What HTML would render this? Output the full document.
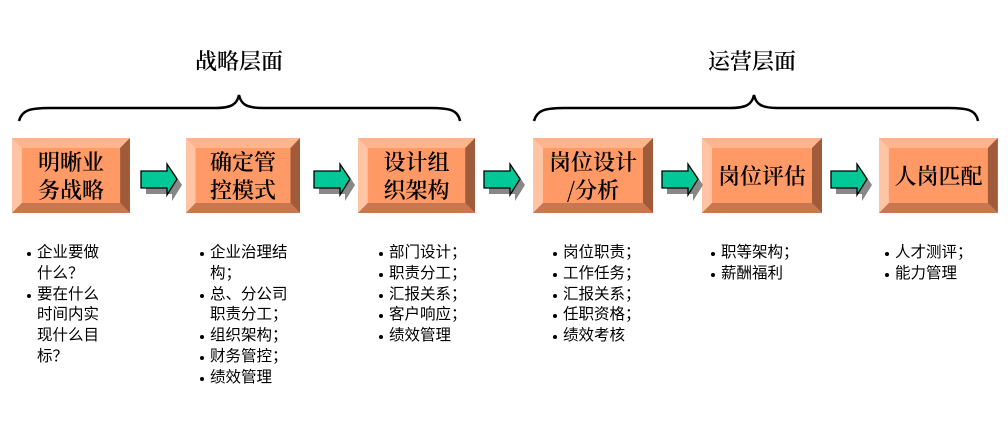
<!DOCTYPE html>
<html><head><meta charset="utf-8"><style>
body{margin:0;width:1008px;height:429px;background:#fff;position:relative;overflow:hidden}
.t{position:absolute;font-family:"Noto Serif CJK SC","Liberation Serif",serif;font-size:22px;font-weight:600;color:#000;white-space:nowrap}
.b{position:absolute;font-family:"Liberation Sans","Noto Sans CJK SC",sans-serif;font-size:15.5px;line-height:20.8px;color:#000}
.b div{position:relative;padding-left:10px}
.b div.s::before{content:"";position:absolute;left:0;top:9px;width:4px;height:4px;border-radius:50%;background:#000}
.bx{position:absolute;font-family:"Noto Serif CJK SC","Liberation Serif",serif;font-weight:600;font-size:22px;line-height:28px;text-align:center;color:#000;display:flex;align-items:center;justify-content:center}
</style></head><body>
<svg width="1008" height="429" style="position:absolute;left:0;top:0">
<defs>
<g id="box">
<rect x="0" y="0" width="120" height="75" fill="#FF9966"/>
<polygon points="0,0 120,0 110,10 10,10" fill="#FFB48C"/>
<polygon points="0,0 10,10 10,65 0,75" fill="#FFC4A4"/>
<polygon points="120,0 120,75 110,65 110,10" fill="#A05C3A"/>
<polygon points="0,75 120,75 110,65 10,65" fill="#C87750"/>
</g>
<g id="arr">
<polygon points="5,13 31,13 31,6 41,21 31,37 31,30 5,30" fill="#888"/>
<polygon points="0,7 26,7 26,0 36,15 26,31 26,24 0,24" fill="#00C896" stroke="#000" stroke-width="1.3"/>
</g>
</defs>
<g transform="translate(12,138) scale(0.983,1)"><use href="#box"/></g>
<g transform="translate(186,138) scale(0.95,1)"><use href="#box"/></g>
<g transform="translate(358,138) scale(0.975,1)"><use href="#box"/></g>
<g transform="translate(533,138)"><use href="#box"/></g>
<g transform="translate(702,138)"><use href="#box"/></g>
<g transform="translate(879,138) scale(0.99,1)"><use href="#box"/></g>
<use href="#arr" x="141" y="164"/>
<use href="#arr" x="314" y="164"/>
<use href="#arr" x="484" y="164"/>
<use href="#arr" x="662" y="164"/>
<use href="#arr" x="831" y="164"/>
<path d="M19,121 C22,110 30,108 50,108 L215,108 C232,108 237,104 239,95 C241,104 246,108 263,108 L430,108 C450,108 458,110 460,121" fill="none" stroke="#000" stroke-width="2.5"/>
<path d="M534,121 C537,110 545,108 565,108 L730,108 C747,108 752,104 754,95 C756,104 761,108 778,108 L948,108 C968,108 976,110 978,121" fill="none" stroke="#000" stroke-width="2.5"/>
</svg>
<div class="t" style="left:195px;top:45px">战略层面</div>
<div class="t" style="left:708px;top:45px">运营层面</div>
<div class="bx" style="left:12px;top:138px;width:118px;height:75px">明晰业<br>务战略</div>
<div class="bx" style="left:186px;top:138px;width:114px;height:75px">确定管<br>控模式</div>
<div class="bx" style="left:358px;top:138px;width:117px;height:75px">设计组<br>织架构</div>
<div class="bx" style="left:533px;top:138px;width:120px;height:75px">岗位设计<br>/分析</div>
<div class="bx" style="left:702px;top:138px;width:120px;height:75px">岗位评估</div>
<div class="bx" style="left:879px;top:138px;width:119px;height:75px">人岗匹配</div>
<div class="b" style="left:27px;top:243px;width:80px"><div class="s">企业要做</div><div>什么？</div><div class="s">要在什么</div><div>时间内实</div><div>现什么目</div><div>标？</div></div>
<div class="b" style="left:200px;top:243px;width:100px"><div class="s">企业治理结</div><div>构；</div><div class="s">总、分公司</div><div>职责分工；</div><div class="s">组织架构；</div><div class="s">财务管控；</div><div class="s">绩效管理</div></div>
<div class="b" style="left:379px;top:243px;width:100px"><div class="s">部门设计；</div><div class="s">职责分工；</div><div class="s">汇报关系；</div><div class="s">客户响应；</div><div class="s">绩效管理</div></div>
<div class="b" style="left:553px;top:243px;width:100px"><div class="s">岗位职责；</div><div class="s">工作任务；</div><div class="s">汇报关系；</div><div class="s">任职资格；</div><div class="s">绩效考核</div></div>
<div class="b" style="left:711px;top:243px;width:100px"><div class="s">职等架构；</div><div class="s">薪酬福利</div></div>
<div class="b" style="left:885px;top:243px;width:100px"><div class="s">人才测评；</div><div class="s">能力管理</div></div>
</body></html>
